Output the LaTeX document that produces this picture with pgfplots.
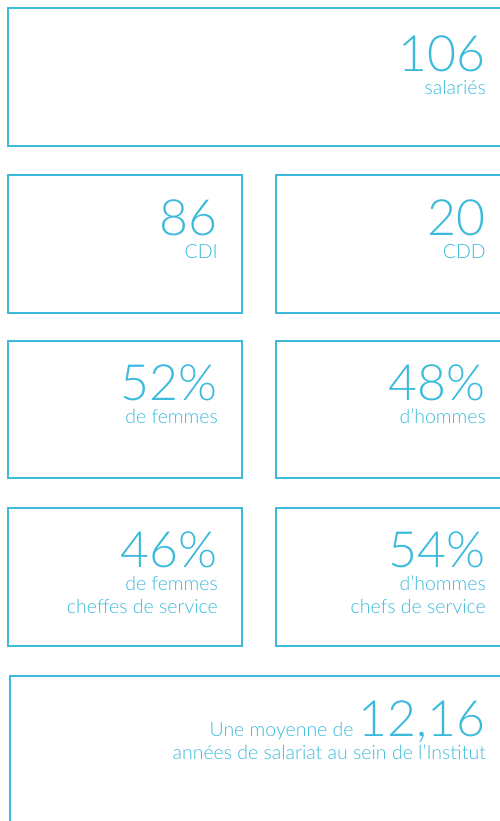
\documentclass[border=0pt]{standalone}
\usepackage{pgfplots}
\pgfplotsset{compat=1.18}
\usepackage{fontspec}
\setmainfont{Lato Light}
\definecolor{cy}{RGB}{59,186,219}
\newcommand{\bignum}[1]{{\fontsize{50}{50}\selectfont #1}}
\newcommand{\lab}{\fontsize{19.5}{23}\selectfont}
\begin{document}
\begin{tikzpicture}
\begin{axis}[width=500pt,height=821pt,scale only axis,
  xmin=0,xmax=500,ymin=0,ymax=821,y dir=reverse,hide axis,clip=true,
  nodes={cy,anchor=base east,inner sep=0pt,text depth=0pt}]
\addplot[cy,line width=2pt,line join=miter] coordinates {(8,8)(520,8)(520,146)(8,146)} -- cycle;
\addplot[cy,line width=2pt,line join=miter] coordinates {(8,175)(242,175)(242,313)(8,313)} -- cycle;
\addplot[cy,line width=2pt,line join=miter] coordinates {(276,175)(520,175)(520,313)(276,313)} -- cycle;
\addplot[cy,line width=2pt,line join=miter] coordinates {(8,341)(242,341)(242,478)(8,478)} -- cycle;
\addplot[cy,line width=2pt,line join=miter] coordinates {(276,341)(520,341)(520,478)(276,478)} -- cycle;
\addplot[cy,line width=2pt,line join=miter] coordinates {(8,508)(242,508)(242,646)(8,646)} -- cycle;
\addplot[cy,line width=2pt,line join=miter] coordinates {(276,508)(520,508)(520,646)(276,646)} -- cycle;
\addplot[cy,line width=2pt,line join=miter] coordinates {(10,676)(520,676)(520,840)(10,840)} -- cycle;
\node at (axis cs:486,72) {\bignum{106}};
\node at (axis cs:486,95) {\lab salariés};
\node at (axis cs:218,235) {\bignum{86}};
\node at (axis cs:218,258) {\lab CDI};
\node at (axis cs:486,235) {\bignum{20}};
\node at (axis cs:486,258) {\lab CDD};
\node at (axis cs:218,400) {\bignum{52\%}};
\node at (axis cs:218,423) {\lab de femmes};
\node at (axis cs:486,400) {\bignum{48\%}};
\node at (axis cs:486,423) {\lab d’hommes};
\node at (axis cs:218,567) {\bignum{46\%}};
\node at (axis cs:218,590) {\lab de femmes};
\node at (axis cs:218,613) {\lab cheffes de service};
\node at (axis cs:486,567) {\bignum{54\%}};
\node at (axis cs:486,590) {\lab d’hommes};
\node at (axis cs:486,613) {\lab chefs de service};
\node at (axis cs:486,736) {\lab Une moyenne de \bignum{12,16}};
\node at (axis cs:486,759) {\lab années de salariat au sein de l’Institut};
\end{axis}
\pgfresetboundingbox
\useasboundingbox (current axis.south west) rectangle (current axis.north east);
\end{tikzpicture}
\end{document}
